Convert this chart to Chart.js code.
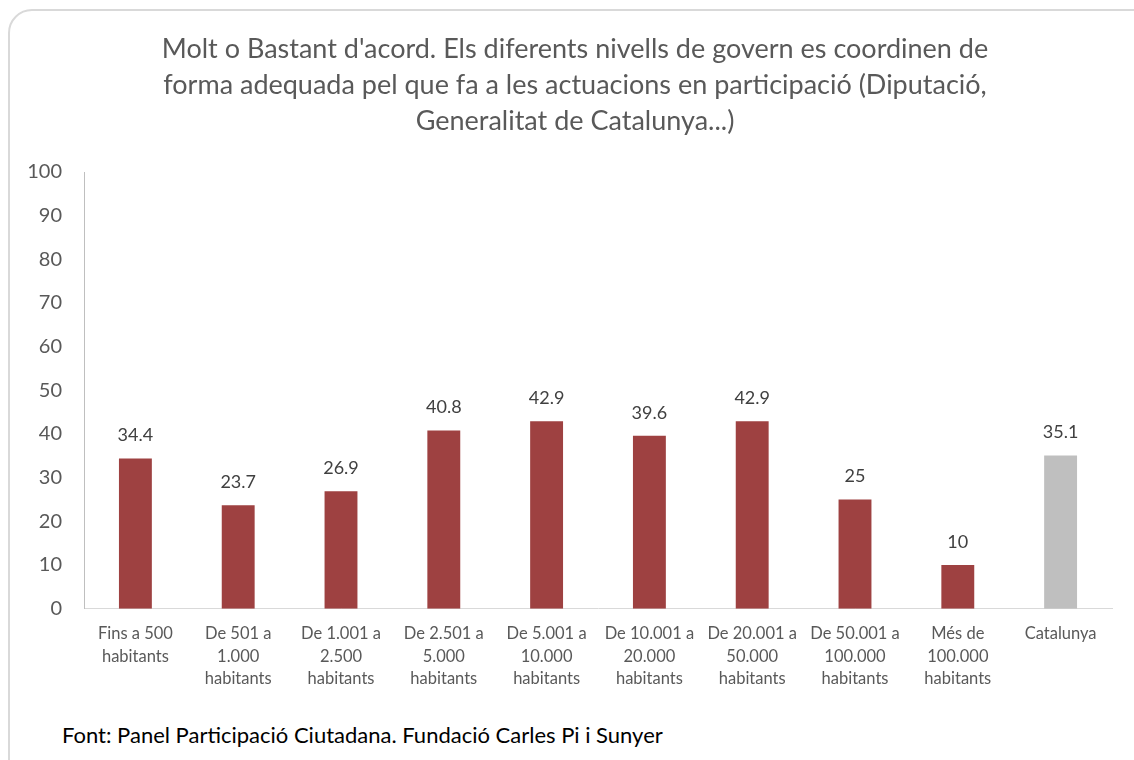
<!DOCTYPE html>
<html>
<head>
<meta charset="utf-8">
<script src="https://cdn.jsdelivr.net/npm/chart.js@4"></script>
<style>
  html, body { margin: 0; padding: 0; background: #fff; overflow: hidden; }
  #wrap { position: relative; width: 1134px; height: 760px; }
  #frame {
    position: absolute; left: 8px; top: 9px; width: 1150px; height: 780px;
    border: 2px solid #d9d9d9; border-radius: 24px; box-sizing: border-box;
  }
  #title {
    position: absolute; left: 0; top: 30px; width: 1150px; text-align: center;
    font-family: Lato, sans-serif; font-size: 27px; line-height: 36px; color: #595959;
  }
  #box { position: absolute; left: 0; top: 0; width: 1134px; height: 704px; }
  #source {
    position: absolute; left: 62px; top: 721px;
    font-family: Lato, sans-serif; font-size: 22px; color: #000;
  }
</style>
</head>
<body>
<div id="wrap">
  <div id="frame"></div>
  <div id="box"><canvas id="chart"></canvas></div>
  <div id="title"></div>
  <div id="source">Font: Panel Participació Ciutadana. Fundació Carles Pi i Sunyer</div>
</div>
<script>
// Data
const categories = [
    ['Fins a 500', 'habitants'],
    ['De 501 a', '1.000', 'habitants'],
    ['De 1.001 a', '2.500', 'habitants'],
    ['De 2.501 a', '5.000', 'habitants'],
    ['De 5.001 a', '10.000', 'habitants'],
    ['De 10.001 a', '20.000', 'habitants'],
    ['De 20.001 a', '50.000', 'habitants'],
    ['De 50.001 a', '100.000', 'habitants'],
    ['Més de', '100.000', 'habitants'],
    ['Catalunya']
];
const values = [34.4, 23.7, 26.9, 40.8, 42.9, 39.6, 42.9, 25, 10, 35.1];
const titleLines = [
    "Molt o Bastant d'acord. Els diferents nivells de govern es coordinen de",
    "forma adequada pel que fa a les actuacions en participació (Diputació,",
    "Generalitat de Catalunya...)"
];

// title as text, one line each
const titleEl = document.getElementById('title');
titleLines.forEach(line => {
    const d = document.createElement('div');
    d.textContent = line;
    titleEl.appendChild(d);
});

const barColors = values.map((v, i) => i === values.length - 1 ? '#bfbfbf' : '#9e4141');

// value labels above each bar
const valueLabels = {
    id: 'valueLabels',
    afterDatasetsDraw(chart) {
        const ctx = chart.ctx;
        const meta = chart.getDatasetMeta(0);
        ctx.save();
        ctx.font = '18px Lato, sans-serif';
        ctx.fillStyle = '#404040';
        ctx.textAlign = 'center';
        ctx.textBaseline = 'middle';
        meta.data.forEach((bar, i) => {
            ctx.fillText(String(values[i]), bar.x, bar.y - 23);
        });
        ctx.restore();
    }
};

const ctx = document.getElementById('chart').getContext('2d');
new Chart(ctx, {
    type: 'bar',
    data: {
        labels: categories,
        datasets: [{
            data: values,
            backgroundColor: barColors,
            borderWidth: 0,
            barPercentage: 0.32,
            categoryPercentage: 1
        }]
    },
    options: {
        responsive: true,
        maintainAspectRatio: false,
        animation: false,
        layout: { padding: { left: 0, right: 22, top: 172, bottom: 0 } },
        plugins: {
            legend: { display: false },
            tooltip: { enabled: false },
            title: { display: false }
        },
        scales: {
            x: {
                grid: { display: false, drawTicks: false },
                border: { display: true, color: '#d9d9d9', width: 1 },
                ticks: {
                    color: '#595959',
                    font: { family: 'Lato, sans-serif', size: 16.5, lineHeight: 1.36 },
                    padding: 14,
                    maxRotation: 0,
                    autoSkip: false
                }
            },
            y: {
                min: 0,
                max: 100,
                grid: { display: false, drawTicks: false },
                border: { display: true, color: '#bfbfbf', width: 1 },
                ticks: {
                    stepSize: 10,
                    color: '#595959',
                    font: { family: 'Lato, sans-serif', size: 20 },
                    padding: 22
                },
                afterFit(scale) { scale.width = 84; }
            }
        }
    },
    plugins: [valueLabels]
});
</script>
</body>
</html>
